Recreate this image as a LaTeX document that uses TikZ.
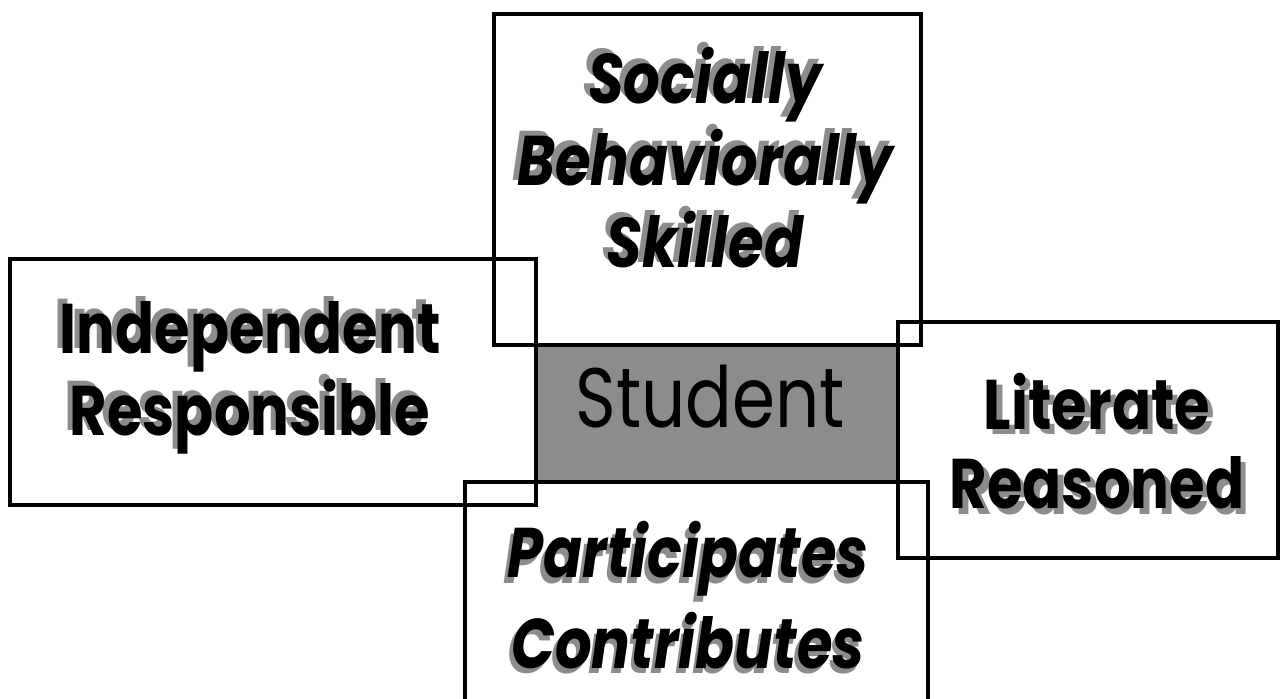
\documentclass[tikz,border=0pt]{standalone}
\usepackage{fontspec}
\usepackage{tikz}
\usepackage{xcolor}
\newfontfamily\traitfont[FakeStretch=0.82]{Poppins}
\definecolor{halftone}{gray}{0.55}
\newcommand{\shadowword}[3]{\makebox[0pt][l]{\hspace*{#1}\raisebox{#2}{\textcolor{halftone}{#3}}}#3}
\tikzset{
    frame-box/.style = {draw=black, line width=2.6pt},
    core-box/.style = {fill=halftone},
    trait-upright/.style = {align=center, inner sep=0pt, font=\traitfont\bfseries\fontsize{40}{45}\selectfont},
    trait-slanted/.style = {align=center, inner sep=0pt, font=\traitfont\bfseries\itshape\fontsize{40}{45}\selectfont},
    core-text/.style = {inner sep=0pt, font=\traitfont\fontsize{48}{56}\selectfont},
}

\begin{document}
\begin{tikzpicture}[x=0.02cm, y=-0.02cm]
\clip (0,0) rectangle (1281,699);
\fill[white] (0,0) rectangle (1281,699);
\fill[core-box] (536,345) rectangle (898,482);
\draw[frame-box] (494,14) rectangle (921,345);
\draw[frame-box] (10,259) rectangle (536,505);
\draw[frame-box] (898,322) rectangle (1278,558);
\draw[frame-box] (465,482) rectangle (928,715);
\node[core-text] (student) at (710,397) {Student};
\node[trait-slanted] (social) at (705,155) {\shadowword{-3pt}{3pt}{Socially}\\\shadowword{-3pt}{3pt}{Behaviorally}\\\shadowword{-3pt}{3pt}{Skilled}};
\node[trait-upright] (independent) at (250,375) {\shadowword{-3pt}{3pt}{Independent}\\\shadowword{-3pt}{3pt}{Responsible}};
\node[trait-upright] (literate) at (1097,444) {\shadowword{3pt}{-3pt}{Literate}\\\shadowword{3pt}{-3pt}{Reasoned}};
\node[trait-slanted] (participates) at (688,598) {\shadowword{-2pt}{-3pt}{Participates}\\[5pt]\shadowword{-2pt}{-3pt}{Contributes}};
\end{tikzpicture}
\end{document}
